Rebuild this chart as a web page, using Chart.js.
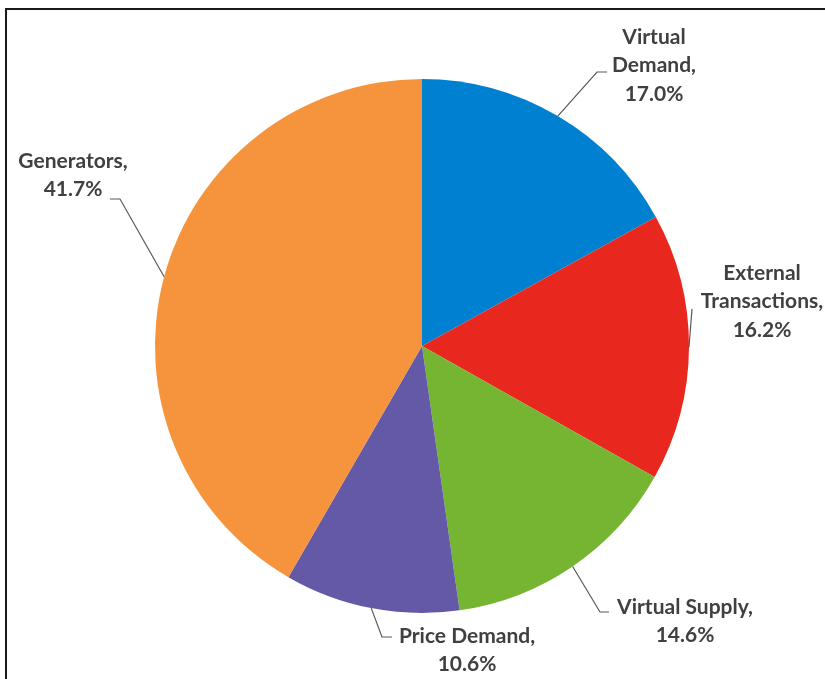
<!DOCTYPE html>
<html>
<head>
<meta charset="utf-8">
<script src="https://cdn.jsdelivr.net/npm/chart.js@4/dist/chart.umd.min.js"></script>
<style>
  html, body { margin: 0; padding: 0; background: #ffffff; }
  #wrap { position: relative; width: 825px; height: 679px; }
  canvas { display: block; }
</style>
</head>
<body>
<div id="wrap"><canvas id="chart" width="825" height="679"></canvas></div>
<script>
// Share of cleared volume by participant type (percent)
const categories = ['Virtual Demand', 'External Transactions', 'Virtual Supply', 'Price Demand', 'Generators'];
const shares = [17.0, 16.2, 14.6, 10.6, 41.7];
const sliceColors = ['#0080D0', '#E8281E', '#76B531', '#6359A6', '#F5943C'];

// Label placement: text centre, whether the name wraps per word,
// and the leader line bend points after it leaves the slice edge.
const labelLayout = [
  { x: 654, y: 37,  wrapWords: true,  path: [[597, 72], [607, 72]] },
  { x: 762, y: 273, wrapWords: true,  path: [[692, 309]] },
  { x: 685, y: 607, wrapWords: false, path: [[600, 612], [609, 612]] },
  { x: 467, y: 636, wrapWords: false, path: [[382, 637], [392, 637]] },
  { x: 73,  y: 161, wrapWords: false, path: [[120, 199], [110, 199]] }
];
const lineGap = 28.5;

const framePlugin = {
  id: 'frame',
  beforeDraw(chart) {
    const ctx = chart.ctx;
    ctx.save();
    ctx.fillStyle = '#ffffff';
    ctx.fillRect(0, 0, chart.width, chart.height);
    ctx.strokeStyle = '#1a1a1a';
    ctx.lineWidth = 2;
    ctx.beginPath();
    ctx.moveTo(6, chart.height);
    ctx.lineTo(6, 9);
    ctx.lineTo(chart.width, 9);
    ctx.stroke();
    ctx.restore();
  }
};

const labelPlugin = {
  id: 'calloutLabels',
  afterDatasetsDraw(chart) {
    const ctx = chart.ctx;
    const meta = chart.getDatasetMeta(0);
    ctx.save();
    meta.data.forEach((arc, i) => {
      const lay = labelLayout[i];
      const mid = (arc.startAngle + arc.endAngle) / 2;
      const sx = arc.x + Math.cos(mid) * arc.outerRadius;
      const sy = arc.y + Math.sin(mid) * arc.outerRadius;
      ctx.strokeStyle = '#595959';
      ctx.lineWidth = 1.2;
      ctx.beginPath();
      ctx.moveTo(sx, sy);
      lay.path.forEach(p => ctx.lineTo(p[0], p[1]));
      ctx.stroke();

      const name = categories[i];
      const lines = lay.wrapWords ? name.split(' ') : [name];
      lines[lines.length - 1] += ',';
      lines.push(shares[i].toFixed(1) + '%');
      ctx.fillStyle = '#404040';
      ctx.font = 'bold 21px Lato, "Open Sans", sans-serif';
      ctx.textAlign = 'center';
      ctx.textBaseline = 'middle';
      lines.forEach((t, k) => ctx.fillText(t, lay.x, lay.y + k * lineGap));
    });
    ctx.restore();
  }
};

new Chart(document.getElementById('chart'), {
  type: 'pie',
  data: {
    labels: categories,
    datasets: [{
      data: shares,
      backgroundColor: sliceColors,
      borderWidth: 0
    }]
  },
  options: {
    responsive: false,
    animation: false,
    layout: { padding: { top: 79, bottom: 66, left: 155, right: 136 } },
    plugins: {
      legend: { display: false },
      tooltip: { enabled: false }
    }
  },
  plugins: [framePlugin, labelPlugin]
});
</script>
</body>
</html>
